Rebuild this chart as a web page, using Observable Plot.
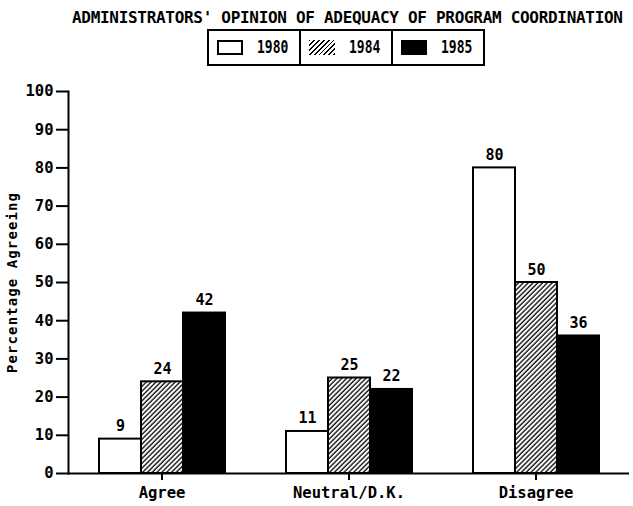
<!DOCTYPE html>
<html><head><meta charset="utf-8">
<script src="https://cdn.jsdelivr.net/npm/d3@7"></script>
<script src="https://cdn.jsdelivr.net/npm/@observablehq/plot@0.6"></script>
<style>
html,body{margin:0;padding:0;background:#fff;}
body{width:633px;font-family:"DejaVu Sans Mono",monospace;font-weight:bold;color:#000;}
#head{position:relative;width:633px;height:75px;}
#title{position:absolute;left:72px;top:10px;font-size:16px;line-height:16px;letter-spacing:-0.3px;white-space:nowrap;}
#legend{position:absolute;left:207px;top:29px;width:278px;height:37px;border:2px solid #000;box-sizing:border-box;display:flex;}
.cell{flex:1;display:flex;align-items:center;padding-left:8px;box-sizing:border-box;}
.cell+.cell{border-left:2px solid #000;}
.sw{width:26px;height:15px;box-sizing:border-box;margin-right:14px;flex:none;}
.lab{font-size:13px;display:inline-block;transform:scaleY(1.3);}
#chart svg{display:block;}
</style>
</head><body>
<div id="head">
  <div id="title"></div>
  <div id="legend"></div>
</div>
<div id="chart"></div>
<script>
const titleText = "ADMINISTRATORS' OPINION OF ADEQUACY OF PROGRAM COORDINATION";
const categories = ["Agree", "Neutral/D.K.", "Disagree"];
const years = ["1980", "1984", "1985"];
const v1980 = [9, 11, 80];
const v1984 = [24, 25, 50];
const v1985 = [42, 22, 36];
const yTicks = [0, 10, 20, 30, 40, 50, 60, 70, 80, 90, 100];
const yLabel = "Percentage Agreeing";

const fills = ["white", "url(#hatch)", "black"];
const swatchCss = [
  "background:#fff;border:2px solid #000;",
  "background:repeating-linear-gradient(135deg,#000 0 1.3px,#fff 1.3px 3.4px);",
  "background:#000;"
];

const series = [v1980, v1984, v1985];
const data = [];
categories.forEach((c, i) => years.forEach((y, j) => data.push({cat: c, year: y, value: series[j][i]})));

document.getElementById("title").textContent = titleText;
const legend = document.getElementById("legend");
years.forEach((y, j) => {
  const cell = document.createElement("div");
  cell.className = "cell";
  cell.innerHTML = `<div class="sw" style="${swatchCss[j]}"></div><span class="lab">${y}</span>`;
  legend.appendChild(cell);
});

const chart = Plot.plot({
  width: 633,
  height: 431,
  marginTop: 16,
  marginBottom: 33,
  marginLeft: 68,
  marginRight: 4,
  style: {fontFamily: "DejaVu Sans Mono, monospace", fontWeight: "bold", color: "black", background: "white"},
  fx: {domain: categories, padding: 0, label: null},
  x: {domain: years, paddingInner: 0, paddingOuter: 0.686, axis: null},
  y: {domain: [0, 100]},
  color: {domain: years, range: fills},
  marks: [
    Plot.barY(data, {fx: "cat", x: "year", y: "value", fill: "year", stroke: "black", strokeWidth: 2}),
    Plot.text(data, {fx: "cat", x: "year", y: "value", text: d => String(d.value), lineAnchor: "bottom", dy: -8, fontSize: 15, fontWeight: "bold"}),
    Plot.ruleY([0], {strokeWidth: 2}),
    Plot.frame({anchor: "left", facetAnchor: "left", strokeWidth: 2}),
    Plot.axisY({ticks: yTicks, tickSize: 12, tickPadding: 3, strokeWidth: 2, fontSize: 15.5,
      label: yLabel, labelAnchor: "center", labelOffset: 61, labelArrow: false}),
    Plot.axisFx({anchor: "bottom", tickSize: 7, tickPadding: 6, strokeWidth: 2, fontSize: 15.5, label: null})
  ]
});

const defs = d3.select(chart).insert("defs", ":first-child");
const pat = defs.append("pattern").attr("id", "hatch").attr("patternUnits", "userSpaceOnUse")
  .attr("width", 3.4).attr("height", 3.4).attr("patternTransform", "rotate(45)");
pat.append("rect").attr("width", 3.4).attr("height", 3.4).attr("fill", "white");
pat.append("line").attr("x1", 1).attr("y1", -1).attr("x2", 1).attr("y2", 5).attr("stroke", "black").attr("stroke-width", 1.3);

d3.select(chart).selectAll("text").filter(function () { return this.textContent === yLabel; })
  .style("font-size", "14px").style("letter-spacing", "1.1px");

document.getElementById("chart").appendChild(chart);
</script>
</body></html>
